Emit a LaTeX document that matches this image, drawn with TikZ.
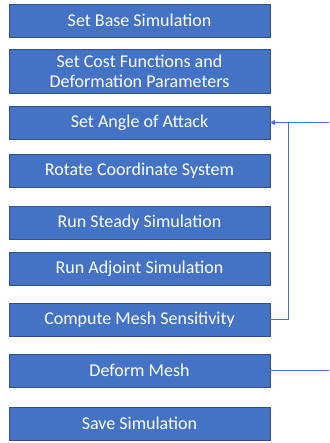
\documentclass[tikz,border=0pt]{standalone}
\usepackage{fontspec}
\setmainfont{Carlito}
\usepackage{xcolor}
\definecolor{stageBack}{HTML}{4472C4}
\definecolor{stageLine}{HTML}{2F528F}
\definecolor{flowLine} {HTML}{4472C4}
\usetikzlibrary{arrows.meta, positioning}
\tikzset{
    stage/.style={rectangle, draw=stageLine, fill=stageBack, text=white,
                  minimum width=261pt, minimum height=33pt, inner sep=0pt,
                  align=center, line width=0.6pt, outer sep=0pt,
                  font=\fontsize{18}{20}\selectfont},
    loopedge/.style={-{Triangle[length=5pt, width=5pt]}, line width=1pt, flowLine},
    outedge/.style={-, line width=1pt, flowLine},
}

\begin{document}
\begin{tikzpicture}[x=1pt, y=-1pt, node distance=13pt]
    \useasboundingbox (0,0) rectangle (329,443);
    \node[stage, anchor=north west] at (9,4) (base) {Set Base Simulation};
    \node[stage, below=12pt of base, minimum height=44pt] (cost) {Set Cost Functions and\\Deformation Parameters};
    \node[stage, below=of cost] (aoa) {Set Angle of Attack};
    \node[stage, below=15pt of aoa] (rot) {Rotate Coordinate System};
    \node[stage, below=19pt of rot] (steady) {Run Steady Simulation};
    \node[stage, below=of steady] (adj) {Run Adjoint Simulation};
    \node[stage, below=18pt of adj] (sens) {Compute Mesh Sensitivity};
    \node[stage, below=18pt of sens] (deform) {Deform Mesh};
    \node[stage, below=20pt of deform] (save) {Save Simulation};
    \coordinate (edge) at (329,0);
    \coordinate (loop) at (288,0);
    \draw[loopedge] (aoa.east -| edge) -- (aoa.east);
    \draw[outedge] (sens.east) -| (loop |- aoa.east);
    \draw[outedge] (deform.east) -- (deform.east -| edge);
\end{tikzpicture}
\end{document}
